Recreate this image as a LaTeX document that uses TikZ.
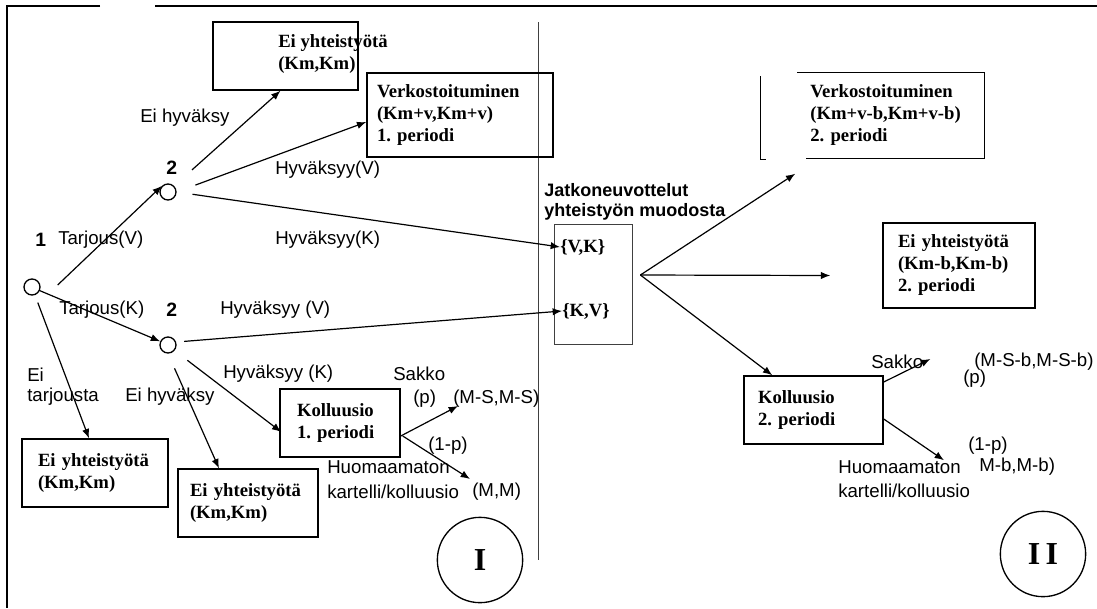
\documentclass[tikz,border=0pt]{standalone}
\usepackage{fontspec}
\setmainfont{Liberation Serif}
\setsansfont{Liberation Sans}
\usetikzlibrary{arrows.meta,calc}

\begin{document}
\begin{tikzpicture}[x=0.75pt, y=-0.75pt,
    arr/.style={-{Latex[length=7pt,width=5.5pt]}, line width=0.9pt},
    box/.style={draw, line width=1.1pt, inner sep=0pt, align=left, font=\bfseries\fontsize{14}{16.5}\selectfont},
    boxtxt/.style={anchor=west, inner sep=0pt, align=left, font=\bfseries\fontsize{14}{16.5}\selectfont},
    lbl/.style={anchor=west, inner sep=0pt, align=left, font=\sffamily\fontsize{14}{15}\selectfont},
    plrno/.style={anchor=west, inner sep=0pt, font=\sffamily\bfseries\fontsize{14.5}{15}\selectfont},
    plr/.style={draw, circle, line width=1pt, minimum size=12pt, inner sep=0pt},
    faint/.style={line width=0.6pt, black!75},
    period/.style={draw, circle, line width=1pt, minimum size=64pt, inner sep=0pt, font=\bfseries\fontsize{24}{24}\selectfont}]

    \useasboundingbox (0,0) rectangle (1097,608);

    % Frame and divider
    \draw[line width=1.3pt] (100,6) -- (7,6) -- (7,608);
    \draw[line width=1.3pt] (155,6) -- (1097,6);
    \draw[faint] (538,22) -- (538,560);

    % Players
    \node[plr] (n1) at (32,287) {};
    \node[plr] (n2a) at (168,192) {};
    \node[plr] (n2b) at (168,345) {};
    \node[plrno] (pone) at (35,240) {1};
    \node[plrno] (ptwoa) at (166,168) {2};
    \node[plrno] (ptwob) at (166,310) {2};

    % Period I outcomes
    \node[box, minimum width=108.75pt, minimum height=51pt] (eitop) at (285.5,56) {};
    \node[boxtxt] (eitoptxt) at (278,54) {Ei yhteistyötä\\(Km,Km)};
    \node[box, minimum width=139.5pt, minimum height=63pt, text width=124.5pt] (verk1) at (460,115) {Verkostoituminen\\(Km+v,Km+v)\\1.\ periodi};
    \node[box, minimum width=109.5pt, minimum height=51pt, text width=85.5pt] (eileft) at (95,473) {Ei yhteistyötä\\(Km,Km)};
    \node[box, minimum width=105pt, minimum height=51pt, text width=87pt] (eimid) at (248,503) {Ei yhteistyötä\\(Km,Km)};
    \node[box, minimum width=90pt, minimum height=51pt, text width=64.5pt] (koll1) at (340,423) {Kolluusio\\1.\ periodi};

    % Edge labels, period I
    \node[lbl] (tarv) at (58,240) {Tarjous(V)};
    \node[lbl] (tark) at (59,310) {Tarjous(K)};
    \node[lbl] (eihya) at (140,118) {Ei hyväksy};
    \node[lbl] (hyva) at (275,170) {Hyväksyy(V)};
    \node[lbl] (hykb) at (275,240) {Hyväksyy(K)};
    \node[lbl] (hyvb) at (220,310) {Hyväksyy (V)};
    \node[lbl] (eitar) at (27,387) {Ei\\tarjousta};
    \node[lbl] (eihyb) at (125,397) {Ei hyväksy};
    \node[lbl] (hykk) at (223,374) {Hyväksyy (K)};
    \node[lbl] (sakko1) at (393,374) {Sakko};
    \node[lbl] (pone1) at (413,399) {(p)};
    \node[lbl] (msms) at (453,399) {(M-S,M-S)};
    \node[lbl] (omp1) at (428,446) {(1-p)};
    \node[lbl] (huom1) at (327,467) {Huomaamaton};
    \node[lbl] (kart1) at (327,492) {kartelli/kolluusio};
    \node[lbl] (mm) at (472,492) {(M,M)};

    % Continued negotiation
    \node[lbl, font=\sffamily\bfseries\fontsize{13.5}{15}\selectfont] (jatko) at (544,202) {Jatkoneuvottelut\\yhteistyön muodosta};
    \node[draw, faint, minimum width=58.5pt, minimum height=90pt] (vk) at (593,284) {};
    \node[boxtxt] (vk1) at (560,247) {\{V,K\}};
    \node[boxtxt] (kv1) at (562,311) {\{K,V\}};

    % Period II outcomes
    \node[box, draw=none, minimum width=139.5pt, minimum height=63.75pt, text width=121pt] (verk2) at (891,115.5) {Verkostoituminen\\(Km+v-b,Km+v-b)\\2.\ periodi};
    \draw[line width=1.1pt] (verk2.north west) -- (verk2.north east) -- (verk2.south east) -- ([shift={(9,0)}]verk2.south west);
    \draw[line width=1.1pt] ([shift={(-37,4)}]verk2.north west) -- ([shift={(-37,1)}]verk2.south west) -- ++(6,0);
    \node[box, minimum width=114pt, minimum height=63.75pt, text width=91.5pt] (eiright) at (959,265.5) {Ei yhteistyötä\\(Km-b,Km-b)\\2.\ periodi};
    \node[box, minimum width=104.25pt, minimum height=51pt, text width=83.25pt] (koll2) at (813.5,410) {Kolluusio\\2.\ periodi};

    % Edge labels, period II
    \node[lbl] (sakko2) at (871,362) {Sakko};
    \node[lbl] (msb) at (974,362) {(M-S-b,M-S-b)};
    \node[lbl] (ptwo2) at (963,379) {(p)};
    \node[lbl] (omp2) at (968,446) {(1-p)};
    \node[lbl] (huom2) at (838,467) {Huomaamaton};
    \node[lbl] (mb) at (979,467) {M-b,M-b)};
    \node[lbl] (kart2) at (838,491) {kartelli/kolluusio};

    % Period markers
    \node[period] (ci) at (480,560) {I};
    \node[period] (cii) at (1043,554) {I\,I};

    % Connectors, period I
    \draw[arr] ([shift={(17,-2)}]n1.east) -- (n2a.135);
    \draw[arr] (n1.335) -- (n2b.155);
    \draw[arr, shorten <=6pt] (n1.290) -- ([shift={(-6,0)}]eileft.north);
    \draw[arr, shorten <=18pt] (n2a.45) -- ([shift={(-5,0)}]eitop.south);
    \draw[arr, shorten <=15pt] (n2a.east) -- ([shift={(0,7)}]verk1.west);
    \draw[arr, shorten <=12pt] (n2a.east) -- (vk1.west);
    \draw[arr, shorten <=6pt] (n2b.20) -- (kv1.west);
    \draw[arr, shorten <=12pt] (n2b.320) -- ([shift={(2,9)}]koll1.west);
    \draw[arr, shorten <=12pt] (n2b.south) -- ([shift={(-29,0)}]eimid.north);
    \draw[arr] ([shift={(0,13)}]koll1.east) -- ([shift={(5,7)}]msms.west);
    \draw[arr] ([shift={(2,13)}]koll1.east) -- ([shift={(-2,-13)}]mm.west);

    % Connectors, period II
    \coordinate (fork) at ([shift={(8,-9)}]vk.east);
    \draw[arr] (fork) -- ([shift={(-2,15)}]verk2.south west);
    \draw[arr] (fork) -- ([shift={(-52,10)}]eiright.west);
    \draw[arr] (fork) -- ([shift={(29,0)}]koll2.north west);
    \draw[arr] ([shift={(0,-28)}]koll2.east) -- ([shift={(7,-3)}]sakko2.east);
    \draw[arr] ([shift={(0,9)}]koll2.east) -- ([shift={(-17,0)}]huom2.north east);
\end{tikzpicture}
\end{document}
